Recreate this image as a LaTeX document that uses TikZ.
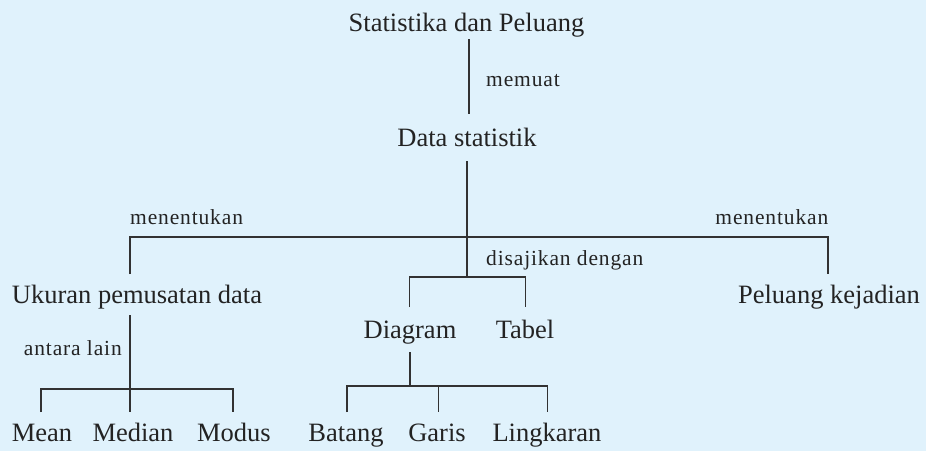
\documentclass[tikz,border=0pt]{standalone}
\usepackage{fontspec}
\setmainfont{Liberation Serif}
\newfontfamily\labfont[LetterSpace=4]{Liberation Serif}
\definecolor{bgblue}{RGB}{224,242,252}
\definecolor{ink}{RGB}{35,35,35}
\definecolor{linec}{RGB}{50,50,50}
\begin{document}
\begin{tikzpicture}[x=1pt,y=-1pt,
  term/.style={anchor=base,inner sep=0pt,text=ink,font=\fontsize{26.5}{30}\selectfont},
  lab/.style={inner sep=0pt,text=ink,font=\labfont\fontsize{21.5}{24}\selectfont},
  conn/.style={draw=linec,line width=1.4pt}]
\fill[bgblue] (0,0) rectangle (926,451);
\useasboundingbox (0,0) rectangle (926,451);
% terms
\node[term] (stat) at (466.5,31) {Statistika dan Peluang};
\node[term] (data) at (467,146) {Data statistik};
\node[term] (ukur) at (137,303) {Ukuran pemusatan data};
\node[term] (pel) at (829,303) {Peluang kejadian};
\node[term] (diag) at (410,338) {Diagram};
\node[term] (tab) at (525,338) {Tabel};
\node[term] (mean) at (42,441.7) {Mean};
\node[term] (med) at (133,441.7) {Median};
\node[term] (mod) at (234,441.7) {Modus};
\node[term] (bat) at (346,441.7) {Batang};
\node[term] (gar) at (437,441.7) {Garis};
\node[term] (ling) at (547,441.7) {Lingkaran};
% junction coordinates
\coordinate (s1) at (469,39);
\coordinate (s2) at (469,114);
\coordinate (d1) at (467,161);
\coordinate (d2) at (467,237);
\coordinate (hl) at (130,237);
\coordinate (hr) at (828,237);
\coordinate (ul) at (130,274);
\coordinate (pr) at (828,274);
\coordinate (dt) at (467,277);
\coordinate (dtl) at (409.5,277);
\coordinate (dtr) at (525.5,277);
\coordinate (dgl) at (409.5,307);
\coordinate (tbl) at (525.5,307);
\coordinate (u1) at (130,315);
\coordinate (u2) at (130,389);
\coordinate (ml) at (41,389);
\coordinate (mr) at (233,389);
\coordinate (mlb) at (41,412);
\coordinate (mmb) at (130,412);
\coordinate (mrb) at (233,412);
\coordinate (g1) at (410,352);
\coordinate (g2) at (410,386);
\coordinate (gl) at (347,386);
\coordinate (gm) at (438.3,386);
\coordinate (gr) at (547.5,386);
\coordinate (glb) at (347,412);
\coordinate (gmb) at (438.3,412);
\coordinate (grb) at (547.5,412);
% connectors
\draw[conn] (s1) -- (s2);
\draw[conn] (d1) -- (dt);
\draw[conn] (ul) -- (hl) -- (hr) -- (pr);
\draw[conn] (dgl) -- (dtl) -- (dtr) -- (tbl);
\draw[conn] (u1) -- (u2);
\draw[conn] (mlb) -- (ml) -- (mr) -- (mrb);
\draw[conn] (u2) -- (mmb);
\draw[conn] (g1) -- (g2);
\draw[conn] (glb) -- (gl) -- (gr) -- (grb);
\draw[conn] (gm) -- (gmb);
% labels
\node[lab,anchor=base west] (lmem) at (486,86) {memuat};
\node[lab,anchor=base west] (lmen1) at (130,224) {menentukan};
\node[lab,anchor=base east] (lmen2) at (828.5,224) {menentukan};
\node[lab,anchor=base west] (ldis) at (486,265) {disajikan dengan};
\node[lab,anchor=base east] (lant) at (122,355) {antara lain};
\end{tikzpicture}
\end{document}
